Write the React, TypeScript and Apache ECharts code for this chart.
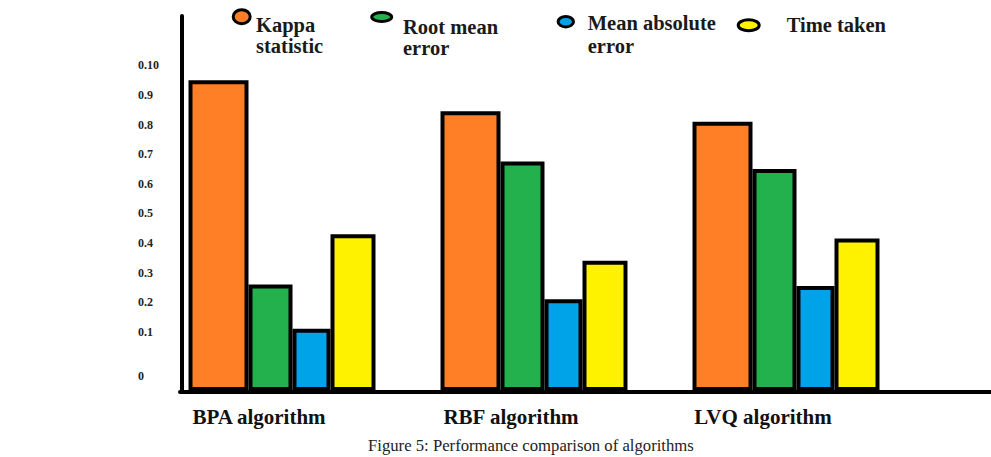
import React, { useEffect, useRef } from "react";
import * as echarts from "echarts";

// ---- data ----
const categories = ["BPA algorithm", "RBF algorithm", "LVQ algorithm"];
const seriesNames = ["Kappa statistic", "Root mean error", "Mean absolute error", "Time taken"];
const legendLabels = ["Kappa\nstatistic", "Root mean\nerror", "Mean absolute\nerror", "Time taken"];
const kappaStatistic = [0.95, 0.845, 0.81];
const rootMeanError = [0.26, 0.675, 0.65];
const meanAbsoluteError = [0.11, 0.21, 0.255];
const timeTaken = [0.43, 0.34, 0.415];
const yTickValues = [-0.05, 0.1, 0.2, 0.3, 0.4, 0.5, 0.6, 0.7, 0.8, 0.9, 1.0];
const yTickLabels = ["0", "0.1", "0.2", "0.3", "0.4", "0.5", "0.6", "0.7", "0.8", "0.9", "0.10"];
const caption = "Figure 5: Performance comparison of algorithms";

// ---- styles ----
const seriesValues = [kappaStatistic, rootMeanError, meanAbsoluteError, timeTaken];
const colors = ["#FF7F27", "#22B14C", "#00A2E8", "#FFF200"];
const barWidths = [60, 44, 38, 45];
const serif = "Liberation Serif";
const legendMarks = [
  { cx: 241.7, cy: 16.7, rx: 8.5, ry: 7 },
  { cx: 381.7, cy: 17, rx: 10, ry: 4.5 },
  { cx: 565.8, cy: 21.7, rx: 7.7, ry: 5.2 },
  { cx: 748.7, cy: 25.3, rx: 10.5, ry: 5.5 },
];
const legendTextPos = [
  { x: 256, y: 13.7, lh: 21.6 },
  { x: 403, y: 16.3, lh: 21 },
  { x: 587.7, y: 11.5, lh: 23 },
  { x: 786.7, y: 13.7, lh: 22 },
];

export default function App() {
  const ref = useRef<HTMLDivElement>(null);
  useEffect(() => {
    if (!ref.current) return;
    const chart = echarts.init(ref.current, undefined, { renderer: "svg" });
    const graphic: any[] = [];
    legendLabels.forEach((label, i) => {
      const m = legendMarks[i];
      graphic.push({
        type: "ellipse",
        shape: { cx: m.cx, cy: m.cy, rx: m.rx, ry: m.ry },
        style: { fill: colors[i], stroke: "#000", lineWidth: 3 },
      });
      const t = legendTextPos[i];
      graphic.push({
        type: "text",
        x: t.x,
        y: t.y,
        style: {
          text: label,
          fontFamily: serif,
          fontSize: 20.5,
          fontWeight: "bold",
          fill: "#1a1a1a",
          lineHeight: t.lh,
          verticalAlign: "top",
        },
      });
    });
    const option: any = {
      animation: false,
      backgroundColor: "#fff",
      title: {
        text: caption,
        left: 368,
        top: 437,
        padding: 0,
        textStyle: { fontFamily: serif, fontSize: 16.7, fontWeight: "normal", color: "#222" },
      },
      grid: [
        { left: 156, right: 79, top: 16, bottom: 66 },
        { left: 180, right: 0, top: 16, bottom: 65 },
      ],
      xAxis: [
        {
          type: "category",
          gridIndex: 0,
          data: categories,
          axisLine: { show: false, onZero: false },
          axisTick: { show: false },
          axisLabel: {
            margin: 15,
            fontFamily: serif,
            fontSize: 21,
            fontWeight: "bold",
            color: "#111",
            padding: [0, 46, 0, 0],
          },
        },
        {
          type: "value",
          gridIndex: 1,
          min: 0,
          max: 1,
          axisLine: { show: true, onZero: false, lineStyle: { color: "#000", width: 4 } },
          axisTick: { show: false },
          axisLabel: { show: false },
          splitLine: { show: false },
        },
      ],
      yAxis: [
        {
          type: "value",
          gridIndex: 0,
          min: -0.1,
          max: 1.167,
          interval: 0.05,
          startValue: -0.1,
          offset: -26,
          axisLine: { show: true, onZero: false, lineStyle: { color: "#000", width: 4 } },
          axisTick: { show: false },
          splitLine: { show: false },
          axisLabel: {
            align: "left",
            margin: 44,
            fontFamily: serif,
            fontSize: 12,
            fontWeight: "bold",
            color: "#222",
            formatter: (v: number) => {
              const k = yTickValues.findIndex((t) => Math.abs(t - v) < 1e-6);
              return k >= 0 ? yTickLabels[k] : "";
            },
          },
        },
        { type: "value", gridIndex: 1, show: false, min: 0, max: 1 },
      ],
      series: seriesNames.map((name, i) => ({
        type: "bar",
        name,
        xAxisIndex: 0,
        yAxisIndex: 0,
        data: seriesValues[i],
        barWidth: barWidths[i],
        barGap: "0%",
        itemStyle: { color: colors[i], borderColor: "#000", borderWidth: 4 },
      })),
      graphic,
    };
    chart.setOption(option);
    return () => chart.dispose();
  }, []);
  return (
    <div
      ref={ref}
      style={{ position: "absolute", left: 0, top: 0, width: 991, height: 457 }}
    />
  );
}
